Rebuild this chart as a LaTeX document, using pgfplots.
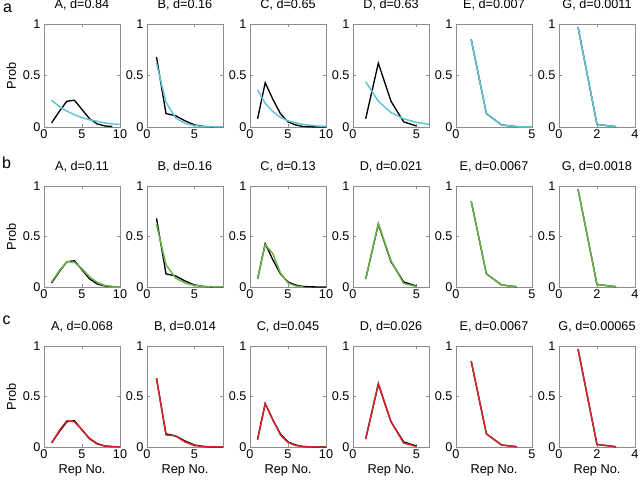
\documentclass[border=0pt]{standalone}
\usepackage{pgfplots}
\pgfplotsset{compat=1.18}
\usepackage{fontspec}
\setmainfont{Liberation Sans}
\definecolor{cyanc}{RGB}{96,196,214}
\definecolor{greenc}{RGB}{104,178,72}
\definecolor{redc}{RGB}{212,36,42}
\definecolor{axgray}{RGB}{140,140,140}
\pgfplotsset{
  pan/.style={scale only axis, width=57pt, anchor=south west,
    ymin=0, ymax=1, ytick={0,0.5,1}, xmin=0,
    axis line style={axgray, line width=0.6pt},
    tick style={axgray, line width=0.6pt}, major tick length=2.5pt, tick align=inside,
    /pgf/number format/assume math mode=true,
    tick label style={font=\fontsize{9.5}{11}\selectfont},
    xticklabel style={inner sep=2pt},
    yticklabel style={inner sep=2.5pt},
    title style={font=\fontsize{9.5}{11}\selectfont, at={(0.5,1)}, anchor=base, yshift=5.5pt},
    label style={font=\fontsize{9.6}{11}\selectfont},
    ylabel style={at={(axis description cs:-0.43,0.5)}, anchor=center},
    xlabel style={at={(axis description cs:0.5,-0.235)}, anchor=center},
    every axis plot/.append style={line width=1.1pt, no marks},
  },
  rowa/.style={pan, height=77.25pt},
  rowb/.style={pan, height=75.75pt},
  rowc/.style={pan, height=75.75pt, xlabel={Rep No.}},
  xA/.style={xmax=10, xtick={0,5,10}},
  xB/.style={xmax=8, xtick={0,5}},
  xD/.style={xmax=6, xtick={0,5}},
  xE/.style={xmax=5, xtick={0,5}},
  xG/.style={xmax=4, xtick={0,2,4}},
  blk/.style={black, line width=1pt},
}
\begin{document}
\begin{tikzpicture}
\path[use as bounding box] (0,0) rectangle (480.75pt,360pt);
\node[font=\fontsize{12}{14}\selectfont, anchor=base] at (5.6pt,351pt) {a};
\node[font=\fontsize{12}{14}\selectfont, anchor=base] at (5pt,234pt) {b};
\node[font=\fontsize{12}{14}\selectfont, anchor=base] at (5pt,117pt) {c};
% ---------------- row a
\begin{axis}[rowa, xA, at={(33pt,264.75pt)}, title={A, d=0.84}, ylabel={Prob}]
\addplot[blk] coordinates {(1,0.04)(2,0.15)(3,0.25)(4,0.26)(5,0.17)(6,0.08)(7,0.03)(8,0.01)(9,0.005)};
\addplot[cyanc] coordinates {(1,0.26)(2,0.20)(3,0.155)(4,0.12)(5,0.09)(6,0.07)(7,0.055)(8,0.04)(9,0.03)(10,0.025)};
\end{axis}
\begin{axis}[rowa, xB, at={(110.25pt,264.75pt)}, title={B, d=0.16}]
\addplot[blk] coordinates {(1,0.68)(2,0.13)(3,0.11)(4,0.06)(5,0.02)(6,0.005)(7,0)(8,0)};
\addplot[cyanc] coordinates {(1,0.62)(2,0.24)(3,0.09)(4,0.035)(5,0.013)(6,0.005)(7,0.002)(8,0.001)};
\end{axis}
\begin{axis}[rowa, xA, at={(187.5pt,264.75pt)}, title={C, d=0.65}]
\addplot[blk] coordinates {(1,0.08)(2,0.43)(3,0.27)(4,0.13)(5,0.05)(6,0.02)(7,0.005)(8,0.002)(9,0)(10,0)};
\addplot[cyanc] coordinates {(1,0.36)(2,0.23)(3,0.15)(4,0.095)(5,0.06)(6,0.04)(7,0.025)(8,0.016)(9,0.01)(10,0.007)};
\end{axis}
\begin{axis}[rowa, xD, at={(264.75pt,264.75pt)}, title={D, d=0.63}]
\addplot[blk] coordinates {(1,0.08)(2,0.62)(3,0.25)(4,0.05)(5,0.01)};
\addplot[cyanc] coordinates {(1,0.44)(2,0.25)(3,0.14)(4,0.08)(5,0.045)(6,0.027)};
\end{axis}
\begin{axis}[rowa, xE, at={(342pt,264.75pt)}, title={E, d=0.007}]
\addplot[blk] coordinates {(1,0.85)(2,0.13)(3,0.02)(4,0.003)};
\addplot[cyanc] coordinates {(1,0.85)(2,0.13)(3,0.02)(4,0.003)(5,0.0005)};
\end{axis}
\begin{axis}[rowa, xG, at={(419.25pt,264.75pt)}, title={G, d=0.0011}]
\addplot[blk] coordinates {(1,0.97)(2,0.025)(3,0.003)};
\addplot[cyanc] coordinates {(1,0.97)(2,0.025)(3,0.003)};
\end{axis}
% ---------------- row b
\begin{axis}[rowb, xA, at={(33pt,144.75pt)}, title={A, d=0.11}, ylabel={Prob}]
\addplot[blk] coordinates {(1,0.04)(2,0.15)(3,0.25)(4,0.26)(5,0.17)(6,0.08)(7,0.03)(8,0.01)(9,0.005)};
\addplot[greenc] coordinates {(1,0.05)(2,0.16)(3,0.25)(4,0.245)(5,0.18)(6,0.1)(7,0.045)(8,0.015)(9,0.005)(10,0.002)};
\end{axis}
\begin{axis}[rowb, xB, at={(110.25pt,144.75pt)}, title={B, d=0.16}]
\addplot[blk] coordinates {(1,0.68)(2,0.13)(3,0.11)(4,0.06)(5,0.02)(6,0.005)(7,0)(8,0)};
\addplot[greenc] coordinates {(1,0.62)(2,0.22)(3,0.09)(4,0.04)(5,0.015)(6,0.005)(7,0.002)(8,0.001)};
\end{axis}
\begin{axis}[rowb, xA, at={(187.5pt,144.75pt)}, title={C, d=0.13}]
\addplot[blk] coordinates {(1,0.08)(2,0.43)(3,0.27)(4,0.13)(5,0.05)(6,0.02)(7,0.005)(8,0.002)(9,0)(10,0)};
\addplot[greenc] coordinates {(1,0.08)(2,0.42)(3,0.33)(4,0.14)(5,0.04)(6,0.01)(7,0.002)};
\end{axis}
\begin{axis}[rowb, xD, at={(264.75pt,144.75pt)}, title={D, d=0.021}]
\addplot[blk] coordinates {(1,0.08)(2,0.62)(3,0.25)(4,0.05)(5,0.01)};
\addplot[greenc] coordinates {(1,0.08)(2,0.63)(3,0.26)(4,0.035)(5,0.005)};
\end{axis}
\begin{axis}[rowb, xE, at={(342pt,144.75pt)}, title={E, d=0.0067}]
\addplot[blk] coordinates {(1,0.85)(2,0.13)(3,0.02)(4,0.003)};
\addplot[greenc] coordinates {(1,0.85)(2,0.13)(3,0.02)(4,0.003)};
\end{axis}
\begin{axis}[rowb, xG, at={(419.25pt,144.75pt)}, title={G, d=0.0018}]
\addplot[blk] coordinates {(1,0.97)(2,0.025)(3,0.003)};
\addplot[greenc] coordinates {(1,0.97)(2,0.025)(3,0.003)};
\end{axis}
% ---------------- row c
\begin{axis}[rowc, xA, at={(33pt,24.75pt)}, title={A, d=0.068}, ylabel={Prob}]
\addplot[blk] coordinates {(1,0.04)(2,0.15)(3,0.25)(4,0.26)(5,0.17)(6,0.08)(7,0.03)(8,0.01)(9,0.005)};
\addplot[redc] coordinates {(1,0.04)(2,0.16)(3,0.26)(4,0.25)(5,0.17)(6,0.085)(7,0.035)(8,0.01)(9,0.003)(10,0.001)};
\end{axis}
\begin{axis}[rowc, xB, at={(110.25pt,24.75pt)}, title={B, d=0.014}]
\addplot[blk] coordinates {(1,0.68)(2,0.13)(3,0.11)(4,0.06)(5,0.02)(6,0.005)(7,0)(8,0)};
\addplot[redc] coordinates {(1,0.68)(2,0.12)(3,0.11)(4,0.05)(5,0.015)(6,0.004)(7,0.001)(8,0)};
\end{axis}
\begin{axis}[rowc, xA, at={(187.5pt,24.75pt)}, title={C, d=0.045}]
\addplot[blk] coordinates {(1,0.08)(2,0.43)(3,0.27)(4,0.13)(5,0.05)(6,0.02)(7,0.005)(8,0.002)(9,0)(10,0)};
\addplot[redc] coordinates {(1,0.07)(2,0.43)(3,0.27)(4,0.12)(5,0.045)(6,0.015)(7,0.004)(8,0.001)(9,0)(10,0)};
\end{axis}
\begin{axis}[rowc, xD, at={(264.75pt,24.75pt)}, title={D, d=0.026}]
\addplot[blk] coordinates {(1,0.08)(2,0.62)(3,0.25)(4,0.05)(5,0.01)};
\addplot[redc] coordinates {(1,0.08)(2,0.63)(3,0.25)(4,0.04)(5,0.005)};
\end{axis}
\begin{axis}[rowc, xE, at={(342pt,24.75pt)}, title={E, d=0.0067}]
\addplot[blk] coordinates {(1,0.85)(2,0.13)(3,0.02)(4,0.003)};
\addplot[redc] coordinates {(1,0.85)(2,0.13)(3,0.02)(4,0.003)};
\end{axis}
\begin{axis}[rowc, xG, at={(419.25pt,24.75pt)}, title={G, d=0.00065}]
\addplot[blk] coordinates {(1,0.97)(2,0.025)(3,0.003)};
\addplot[redc] coordinates {(1,0.97)(2,0.025)(3,0.003)};
\end{axis}
\end{tikzpicture}
\end{document}
